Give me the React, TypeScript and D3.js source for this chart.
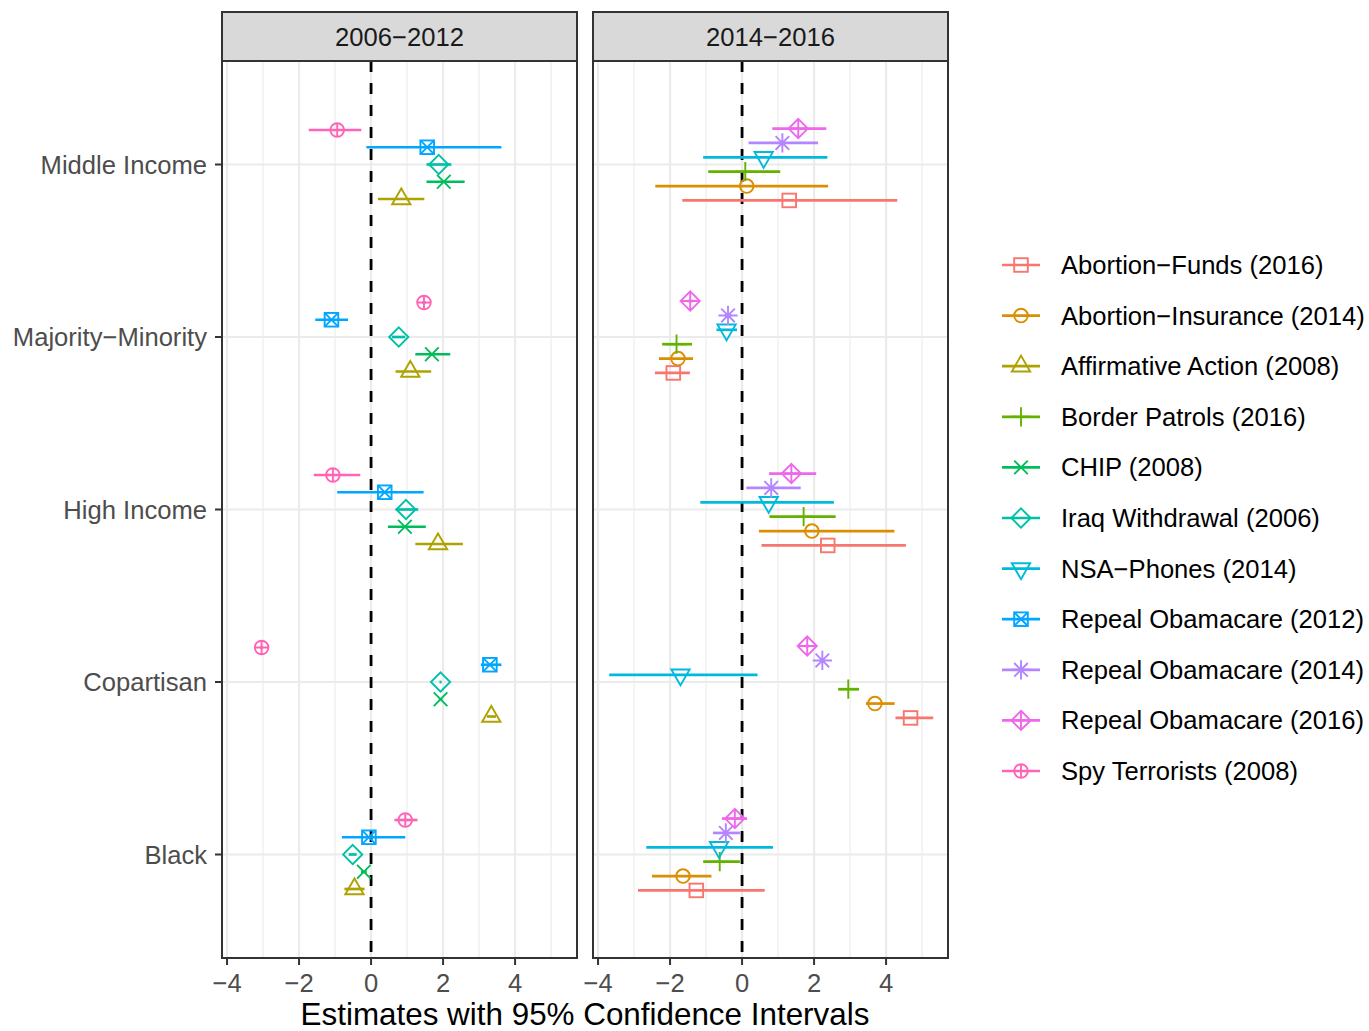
import * as d3 from "d3";

// categories, top to bottom
const categories = ["Middle Income", "Majority\u2212Minority", "High Income", "Copartisan", "Black"];
const panels = ["2006\u22122012", "2014\u22122016"];
const xTicks = [-4, -2, 0, 2, 4];
const xMinor = [-3, -1, 1, 3, 5];

// series names (legend order)
const seriesNames = [
  "Abortion\u2212Funds (2016)",
  "Abortion\u2212Insurance (2014)",
  "Affirmative Action (2008)",
  "Border Patrols (2016)",
  "CHIP (2008)",
  "Iraq Withdrawal (2006)",
  "NSA\u2212Phones (2014)",
  "Repeal Obamacare (2012)",
  "Repeal Obamacare (2014)",
  "Repeal Obamacare (2016)",
  "Spy Terrorists (2008)",
];
const seriesPanel = [1, 1, 0, 1, 0, 0, 1, 0, 1, 1, 0];

// estimates, per category (Middle, Maj-Min, High, Copartisan, Black)
const est = [
  [1.31, -1.91, 2.38, 4.68, -1.27],
  [0.13, -1.78, 1.94, 3.69, -1.64],
  [0.84, 1.09, 1.86, 3.34, -0.46],
  [0.09, -1.82, 1.71, 2.95, -0.62],
  [2.02, 1.69, 0.94, 1.93, -0.2],
  [1.88, 0.77, 0.97, 1.93, -0.51],
  [0.6, -0.43, 0.74, -1.71, -0.64],
  [1.56, -1.1, 0.38, 3.3, -0.06],
  [1.12, -0.39, 0.81, 2.23, -0.45],
  [1.56, -1.44, 1.37, 1.81, -0.2],
  [-0.94, 1.47, -1.06, -3.04, 0.95],
];
const lower = [
  [-1.66, -2.42, 0.54, 4.26, -2.89],
  [-2.41, -2.31, 0.47, 3.44, -2.5],
  [0.19, 0.68, 1.23, 3.22, -0.74],
  [-0.94, -2.22, 0.76, 2.67, -1.08],
  [1.54, 1.23, 0.47, 1.88, -0.28],
  [1.54, 0.58, 0.68, 1.9, -0.62],
  [-1.08, -0.71, -1.16, -3.69, -2.66],
  [-0.13, -1.55, -0.94, 3.05, -0.81],
  [0.18, -0.48, 0.12, 2.18, -0.81],
  [0.84, -1.52, 0.75, 1.76, -0.56],
  [-1.73, 1.42, -1.59, -3.08, 0.65],
];
const upper = [
  [4.31, -1.45, 4.55, 5.31, 0.63],
  [2.39, -1.36, 4.23, 4.24, -0.85],
  [1.48, 1.67, 2.55, 3.47, -0.18],
  [1.06, -1.39, 2.6, 3.25, -0.06],
  [2.6, 2.2, 1.52, 1.98, -0.12],
  [2.23, 0.95, 1.31, 1.96, -0.4],
  [2.37, -0.14, 2.55, 0.43, 0.86],
  [3.62, -0.64, 1.46, 3.62, 0.95],
  [2.11, -0.3, 1.63, 2.28, -0.06],
  [2.34, -1.36, 2.06, 1.86, 0.14],
  [-0.27, 1.52, -0.3, -3.0, 1.29],
];

const colors = [
  "#F8766D", "#DB8E00", "#AEA200", "#64B200", "#00BD5C", "#00C1A7",
  "#00BADE", "#00A6FF", "#B385FF", "#EF67EB", "#FF63B6",
];

const FONT = "'Liberation Sans', Arial, Helvetica, sans-serif";
const R = 6.8;
const FS = 25.6;

function Shape({ shape, x, y, color }: { shape: number; x: number; y: number; color: string }) {
  const s = { fill: "none", stroke: color, strokeWidth: 1.9 };
  const q = Math.SQRT2 * R;
  const tri = (dir: number) => {
    const r = 1.555 * R, yc = 0.778 * R, xc = 1.347 * R;
    return `M${x},${y - dir * r}L${x + xc},${y + dir * yc}L${x - xc},${y + dir * yc}Z`;
  };
  const plus = (h: number) => `M${x - h},${y}H${x + h}M${x},${y - h}V${y + h}`;
  const times = (h: number) => `M${x - h},${y - h}L${x + h},${y + h}M${x - h},${y + h}L${x + h},${y - h}`;
  const diamond = (h: number) => `M${x},${y - h}L${x + h},${y}L${x},${y + h}L${x - h},${y}Z`;
  switch (shape) {
    case 0: return <rect x={x - R} y={y - R} width={2 * R} height={2 * R} {...s} />;
    case 1: return <circle cx={x} cy={y} r={R} {...s} />;
    case 2: return <path d={tri(1)} {...s} />;
    case 3: return <path d={plus(q)} {...s} />;
    case 4: return <path d={times(R)} {...s} />;
    case 5: return <path d={diamond(q)} {...s} />;
    case 6: return <path d={tri(-1)} {...s} />;
    case 7: return <g><rect x={x - R} y={y - R} width={2 * R} height={2 * R} {...s} /><path d={times(R)} {...s} /></g>;
    case 8: return <path d={times(R) + plus(q)} {...s} />;
    case 9: return <path d={diamond(q) + plus(q)} {...s} />;
    default: return <g><circle cx={x} cy={y} r={R} {...s} /><path d={plus(R)} {...s} /></g>;
  }
}

export default function App() {
  const W = 1369, H = 1031;
  const top = 61, bottom = 958;
  const panelX = [[222, 577], [593, 948]];
  const grey20 = "#333333";

  const y = d3.scalePoint<string>().domain(categories).range([top, bottom]).padding(0.6);
  const step = y.step();

  return (
    <div style={{ position: "absolute", left: 0, top: 0 }}>
      <svg width={W} height={H} style={{ display: "block", background: "#fff", fontFamily: FONT }}>
        {panels.map((p, pi) => {
          const [x0, x1] = panelX[pi];
          const x = d3.scaleLinear().domain([-4.14, 5.72]).range([x0, x1]);
          const members = seriesNames.map((_, i) => i).filter((i) => seriesPanel[i] === pi);
          const n = members.length;
          const dw = (0.5 * step) / n;
          return (
            <g key={p}>
              <rect x={x0} y={top} width={x1 - x0} height={bottom - top} fill="#fff" />
              {xMinor.map((t) => (
                <line key={"m" + t} x1={x(t)} x2={x(t)} y1={top} y2={bottom} stroke="#EBEBEB" strokeWidth={1.1} />
              ))}
              {xTicks.map((t) => (
                <line key={"M" + t} x1={x(t)} x2={x(t)} y1={top} y2={bottom} stroke="#EBEBEB" strokeWidth={2.2} />
              ))}
              {categories.map((c) => (
                <line key={c} x1={x0} x2={x1} y1={y(c)} y2={y(c)} stroke="#EBEBEB" strokeWidth={2.2} />
              ))}
              <line x1={x(0)} x2={x(0)} y1={top} y2={bottom} stroke="#000" strokeWidth={2.8} strokeDasharray="11,11" />
              {members.map((si, k) => {
                const off = ((n - 1) / 2 - k) * dw;
                return (
                  <g key={si}>
                    {categories.map((c, ci) => {
                      const yy = (y(c) as number) + off;
                      return (
                        <g key={c}>
                          <line x1={x(lower[si][ci])} x2={x(upper[si][ci])} y1={yy} y2={yy} stroke={colors[si]} strokeWidth={2.7} />
                          <Shape shape={si} x={x(est[si][ci])} y={yy} color={colors[si]} />
                        </g>
                      );
                    })}
                  </g>
                );
              })}
              <rect x={x0} y={top} width={x1 - x0} height={bottom - top} fill="none" stroke={grey20} strokeWidth={2} />
              {/* strip */}
              <rect x={x0} y={12} width={x1 - x0} height={top - 12} fill="#D9D9D9" stroke={grey20} strokeWidth={2} />
              <text x={(x0 + x1) / 2} y={46} textAnchor="middle" fontSize={FS} fill="#1A1A1A">{p}</text>
              {/* x axis */}
              {xTicks.map((t) => (
                <g key={"t" + t}>
                  <line x1={x(t)} x2={x(t)} y1={bottom} y2={bottom + 7} stroke={grey20} strokeWidth={2} />
                  <text x={x(t)} y={992} textAnchor="middle" fontSize={FS} fill="#4D4D4D">
                    {t < 0 ? "\u2212" + Math.abs(t) : String(t)}
                  </text>
                </g>
              ))}
            </g>
          );
        })}
        {/* y axis */}
        {categories.map((c) => (
          <g key={c}>
            <line x1={215} x2={222} y1={y(c)} y2={y(c)} stroke={grey20} strokeWidth={2} />
            <text x={207} y={(y(c) as number) + 9} textAnchor="end" fontSize={FS} fill="#4D4D4D">{c}</text>
          </g>
        ))}
        <text x={585} y={1025} textAnchor="middle" fontSize={31.4} fill="#000">
          Estimates with 95% Confidence Intervals
        </text>
        {/* legend */}
        {seriesNames.map((s, i) => {
          const ly = 265 + i * 50.6;
          return (
            <g key={s}>
              <line x1={1002} x2={1040} y1={ly} y2={ly} stroke={colors[i]} strokeWidth={2.7} />
              <Shape shape={i} x={1021} y={ly} color={colors[i]} />
              <text x={1061} y={ly + 9} fontSize={FS} fill="#000">{s}</text>
            </g>
          );
        })}
      </svg>
    </div>
  );
}
